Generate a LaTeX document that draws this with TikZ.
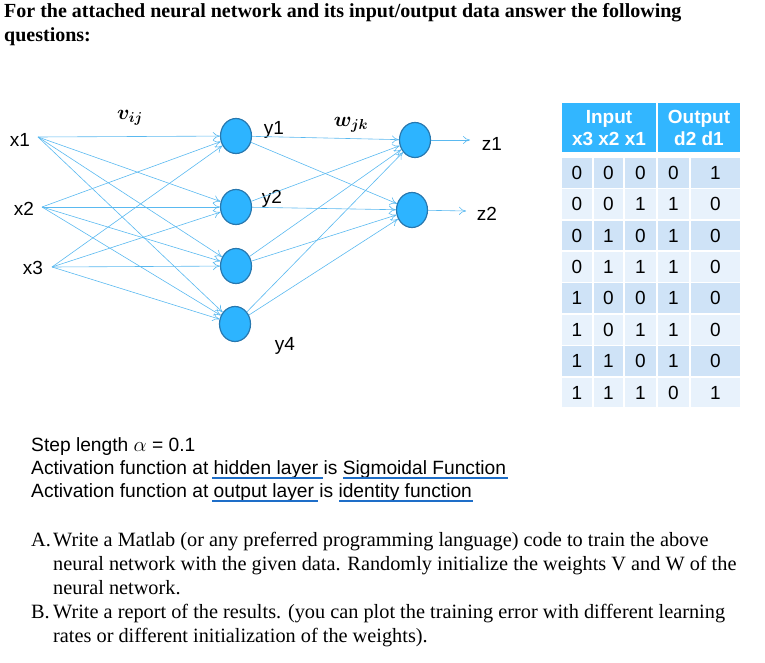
\documentclass[tikz,border=0pt]{standalone}
\usepackage{bm}
\usepackage{fontspec}
\setmainfont{Liberation Serif}
\setsansfont{Liberation Sans}
\usetikzlibrary{shapes.geometric,arrows.meta}
\definecolor{edgec}{RGB}{90,185,240}
\definecolor{nodef}{RGB}{45,180,255}
\definecolor{nodeb}{RGB}{40,120,175}
\definecolor{hdr}{RGB}{50,182,255}
\definecolor{rowa}{RGB}{207,227,247}
\definecolor{rowb}{RGB}{232,242,252}
\definecolor{ulc}{RGB}{30,110,200}
\tikzset{
 neuron/.style={ellipse,fill=nodef,draw=nodeb,line width=1.2pt,minimum width=31pt,minimum height=35pt,inner sep=0},
 lbl/.style={font=\sffamily\fontsize{19}{21}\selectfont,inner sep=1pt},
 conn/.style={draw=edgec,line width=0.6pt,-{To[length=7pt,width=8pt]}},
 cellbox/.style={draw=white,line width=1.5pt},
 celltx/.style={font=\sffamily\fontsize{19}{21}\selectfont},
 hdrtx/.style={font=\sffamily\bfseries\fontsize{19}{22}\selectfont,text=white,align=center},
 body/.style={font=\fontsize{20.3}{23}\selectfont,anchor=base west,inner sep=0},
 sbody/.style={font=\sffamily\fontsize{19.2}{23}\selectfont,anchor=base west,inner sep=0},
 ul/.style={draw=ulc,line width=1.3pt}
}
\begin{document}
\begin{tikzpicture}[x=1pt,y=-1pt]
\useasboundingbox (0,0) rectangle (765,663);
% heading
\node[body,font=\bfseries\fontsize{20}{23}\selectfont] (h1) at (4,18) {For the attached neural network and its input/output data answer the following};
\node[body,font=\bfseries\fontsize{20}{23}\selectfont] (h2) at (4,42) {questions:};
% inputs
\node[lbl] (x1) at (20,140) {x1};
\node[lbl] (x2) at (24,209) {x2};
\node[lbl] (x3) at (33,268) {x3};
\coordinate (s1) at (38,137);
\coordinate (s2) at (42,207);
\coordinate (s3) at (52,267);
% hidden
\node[neuron] (y1) at (236,136) {};
\node[neuron] (y2) at (236,207) {};
\node[neuron] (y3) at (236,266) {};
\node[neuron] (y4) at (235,324) {};
\node[neuron] (z1n) at (415,140) {};
\node[neuron] (z2n) at (412,210) {};
\node[lbl] (ly1) at (274,130) {y1};
\node[lbl] (ly2) at (272,199) {y2};
\node[lbl] (ly4) at (285,346) {y4};
\node[lbl] (lz1) at (492,144) {z1};
\node[lbl] (lz2) at (487,214) {z2};
\node[inner sep=0,font=\fontsize{20}{22}\selectfont] (v) at (130,118) {$\bm{v_{ij}}$};
\node[inner sep=0,font=\fontsize{20}{22}\selectfont] (w) at (351,125) {$\bm{w_{jk}}$};
\coordinate (o1) at (470,140);
\coordinate (o2) at (466,211);
\foreach \s in {s1,s2,s3}{\foreach \h in {y1,y2,y3,y4}{\draw[conn] (\s) -- (\h);}}
\foreach \h in {y1,y2,y3,y4}{\foreach \o in {z1n,z2n}{\draw[conn] (\h) -- (\o);}}
\draw[conn] (z1n) -- (o1);
\draw[conn] (z2n) -- (o2);
% table
\fill[hdr] (561,102) rectangle (657,153);
\fill[hdr] (657,102) rectangle (741,153);
\draw[cellbox] (561,102) rectangle (657,153);
\draw[cellbox] (657,102) rectangle (741,153);
\node[hdrtx] (hin) at (609,128) {Input\\x3 x2 x1};
\node[hdrtx] (hout) at (699,128) {Output\\d2 d1};
\foreach \r/\a/\b/\c/\d [count=\i from 0] in {0/0/0/0/1,0/0/1/1/0,0/1/0/1/0,0/1/1/1/0,1/0/0/1/0,1/0/1/1/0,1/1/0/1/0,1/1/1/0/1}{
  \pgfmathsetmacro\yt{157+\i*31.4}
  \pgfmathsetmacro\yb{\yt+31.4}
  \pgfmathsetmacro\ym{\yt+15.7}
  \ifodd\i \def\rc{rowb}\else\def\rc{rowa}\fi
  \foreach \xl/\xr in {561/593,593/624,624/657,657/690,690/741}{
    \draw[cellbox,fill=\rc] (\xl,\yt) rectangle (\xr,\yb);
  }
  \node[celltx] at (577,\ym) {\r};
  \node[celltx] at (608.5,\ym) {\a};
  \node[celltx] at (640.5,\ym) {\b};
  \node[celltx] at (673.5,\ym) {\c};
  \node[celltx] at (715.5,\ym) {\d};
}
% parameters
\node[sbody] (p1) at (31,451) {Step length $\alpha$ = 0.1};
\node[sbody] (p2) at (31,474) {Activation function at hidden layer is Sigmoidal Function};
\node[sbody] (p3) at (31,497) {Activation function at output layer is identity function};
\draw[ul] (212,478) -- (323,478);
\draw[ul] (343,478) -- (508,478);
\draw[ul] (212,501) -- (318,501);
\draw[ul] (339,501) -- (473,501);
% questions
\node[body] (qa) at (31,546) {A.};
\node[body] (qa1) at (53,546) {Write a Matlab (or any preferred programming language) code to train the above};
\node[body] (qa2) at (53,570) {neural network with the given data. Randomly initialize the weights V and W of the};
\node[body] (qa3) at (53,594) {neural network.};
\node[body] (qb) at (31,618) {B.};
\node[body] (qb1) at (53,618) {Write a report of the results. (you can plot the training error with different learning};
\node[body] (qb2) at (53,642) {rates or different initialization of the weights).};
\end{tikzpicture}
\end{document}
